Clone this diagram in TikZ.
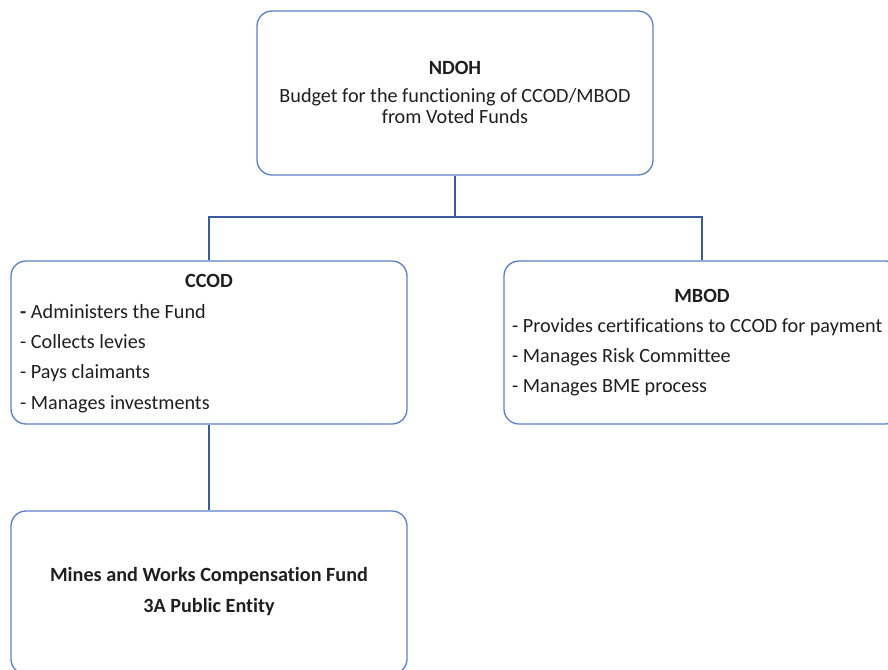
\documentclass[tikz,border=0pt]{standalone}
\usepackage{fontspec}
\setmainfont[Ligatures=NoCommon]{Carlito}
\definecolor{boxblue}{HTML}{5B80C6}
\definecolor{lineblue}{HTML}{3A5C9E}
\begin{document}
\begin{tikzpicture}[x=1pt,y=-1pt,
  box/.style={draw=boxblue,line width=1.3pt,rounded corners=15pt,inner sep=0pt},
  conn/.style={draw=lineblue,line width=1.3pt},
  txt/.style={font=\fontsize{20.2}{22}\selectfont,inner sep=0pt,text=black!88},
  btxt/.style={txt,font=\fontsize{20.2}{22}\selectfont\bfseries},
  ltxt/.style={txt,anchor=west}]
\useasboundingbox (0,0) rectangle (888,669);
\clip (0,0) rectangle (888,669);
\fill[white] (0,0) rectangle (888,669);
% boxes
\node[box,minimum width=396pt,minimum height=164pt] (ndoh) at (455,93) {};
\node[box,minimum width=396pt,minimum height=163pt] (ccod) at (209,342.5) {};
\node[box,minimum width=396pt,minimum height=163pt] (mbod) at (702,342.5) {};
\node[box,minimum width=396pt,minimum height=163pt] (mines) at (209,592.5) {};
% connectors
\coordinate (junc) at (455,217);
\draw[conn] (ndoh.south) -- (junc);
\draw[conn] (junc) -| (ccod.north);
\draw[conn] (junc) -| (mbod.north);
\draw[conn] (ccod.south) -- (mines.north);
% texts
\node[btxt] (t1) at (455,68) {NDOH};
\node[txt] (t2) at (455,97) {Budget for the functioning of CCOD/MBOD};
\node[txt] (t3) at (455,117) {from Voted Funds};
\node[btxt] (c0) at (209,281) {CCOD};
\node[ltxt] (c1) at (20,312) {\textbf{-} Administers the Fund};
\node[ltxt] (c2) at (20,342) {- Collects levies};
\node[ltxt] (c3) at (20,373) {- Pays claimants};
\node[ltxt] (c4) at (20,404) {- Manages investments};
\node[btxt] (m0) at (702,296) {MBOD};
\node[ltxt] (m1) at (512,327) {- Provides certifications to CCOD for payment};
\node[ltxt] (m2) at (512,357) {- Manages Risk Committee};
\node[ltxt] (m3) at (512,388) {- Manages BME process};
\node[btxt] (w1) at (209,576) {Mines and Works Compensation Fund};
\node[btxt] (w2) at (209,607) {3A Public Entity};
\end{tikzpicture}
\end{document}
